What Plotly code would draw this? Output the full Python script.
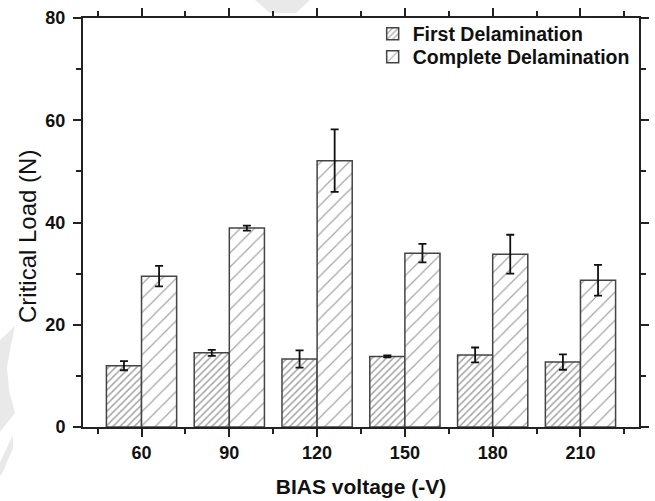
import plotly.graph_objects as go

# BIAS voltage groups (-V)
bias_voltage = [60, 90, 120, 150, 180, 210]

# Critical load (N) and standard deviations
first_delam = [12.0, 14.5, 13.3, 13.8, 14.1, 12.7]
first_delam_err = [0.9, 0.6, 1.7, 0.2, 1.45, 1.5]
complete_delam = [29.5, 38.9, 52.1, 34.0, 33.8, 28.7]
complete_delam_err = [2.0, 0.5, 6.1, 1.8, 3.8, 3.0]

y_ticks = [0, 20, 40, 60, 80]

font_family = "Liberation Sans, Arial, sans-serif"
axis_color = "#222222"

# plot-area geometry in pixels, used to place the faint background marks
W, H = 655, 501
M_L, M_R, M_T, M_B = 83, 16, 18, 74
PW, PH = W - M_L - M_R, H - M_T - M_B


def px_x(px):
    return (px - M_L) / PW


def py_paper(py):
    return (H - M_B - py) / PH


def px_path(points):
    """SVG path in paper coordinates from pixel points."""
    parts = []
    for i, (px, py) in enumerate(points):
        parts.append(("M" if i == 0 else "L") + f"{px_x(px):.4f},{py_paper(py):.4f}")
    return " ".join(parts) + " Z"


fig = go.Figure()

fig.add_trace(go.Bar(
    name="First Delamination",
    x=bias_voltage,
    y=first_delam,
    legend="legend",
    error_y=dict(type="data", array=first_delam_err, color="#111111",
                 thickness=1.8, width=4),
    marker=dict(color="white",
                line=dict(color="#444444", width=1.5),
                pattern=dict(shape="/", size=5, solidity=0.3,
                             fgcolor="#4a4a4a", bgcolor="white")),
))

fig.add_trace(go.Bar(
    name="Complete Delamination",
    x=bias_voltage,
    y=complete_delam,
    legend="legend2",
    error_y=dict(type="data", array=complete_delam_err, color="#111111",
                 thickness=1.8, width=4),
    marker=dict(color="white",
                line=dict(color="#444444", width=1.5),
                pattern=dict(shape="/", size=10, solidity=0.12,
                             fgcolor="#4a4a4a", bgcolor="white")),
))

# faint grey page marks behind the chart
faint_marks = [
    [(0, 340), (15, 326), (11, 345), (7, 367), (9, 390), (15, 413), (0, 432)],
    [(0, 462), (13, 435), (13, 448), (3, 472), (0, 476)],
    [(255, 0), (310, 0), (296, 13), (270, 13)],
]
shapes = [
    dict(type="path", xref="paper", yref="paper", path=px_path(pts),
         fillcolor="#e9e9e9", line=dict(width=0), layer="below")
    for pts in faint_marks
]

legend_style = dict(
    xanchor="left", yanchor="middle",
    bgcolor="rgba(0,0,0,0)",
    font=dict(size=19.5, family=font_family, weight="bold"),
    itemwidth=30,
)

fig.update_layout(
    width=W, height=H,
    margin=dict(l=M_L, r=M_R, t=M_T, b=M_B, autoexpand=False),
    paper_bgcolor="white",
    plot_bgcolor="rgba(0,0,0,0)",
    barmode="group",
    bargap=0.2,
    bargroupgap=0.0,
    font=dict(family=font_family, size=18, color="#111111", weight="bold"),
    legend=dict(x=0.521, y=py_paper(34), **legend_style),
    legend2=dict(x=0.521, y=py_paper(57), **legend_style),
    showlegend=True,
    shapes=shapes,
    annotations=[dict(
        text="Critical Load (N)", textangle=-90,
        xref="paper", yref="paper", x=px_x(27), y=py_paper(237),
        xanchor="center", yanchor="middle", showarrow=False,
        font=dict(size=24, family=font_family, weight="normal", color="#111111"),
    )],
)

fig.update_xaxes(
    range=[bias_voltage[0] - 20, bias_voltage[-1] + 20],
    automargin=False,
    tickmode="array",
    tickvals=bias_voltage,
    ticktext=[str(v) for v in bias_voltage],
    ticks="outside", ticklen=8, tickwidth=1.8, tickcolor=axis_color,
    ticklabelstandoff=0,
    minor=dict(ticks="outside", ticklen=5, tickwidth=1.8, tickcolor=axis_color,
               tickvals=[v - 15 for v in bias_voltage] + [bias_voltage[-1] + 15]),
    showline=True, linecolor=axis_color, linewidth=2, mirror="ticks",
    showgrid=False, zeroline=False,
    tickfont=dict(size=18, family=font_family, weight="bold"),
    title=dict(text="BIAS voltage (-V)", standoff=18,
               font=dict(size=21, family=font_family, weight="bold")),
)

fig.update_yaxes(
    range=[0, 80],
    automargin=False,
    tickmode="array",
    tickvals=y_ticks,
    ticktext=[str(v) for v in y_ticks],
    ticks="outside", ticklen=8, tickwidth=1.8, tickcolor=axis_color,
    ticklabelstandoff=4,
    minor=dict(ticks="outside", ticklen=5, tickwidth=1.8, tickcolor=axis_color,
               dtick=10, tick0=0),
    showline=True, linecolor=axis_color, linewidth=2, mirror="ticks",
    showgrid=False, zeroline=False,
    tickfont=dict(size=18, family=font_family, weight="bold"),
)

fig.write_html("out.html")
